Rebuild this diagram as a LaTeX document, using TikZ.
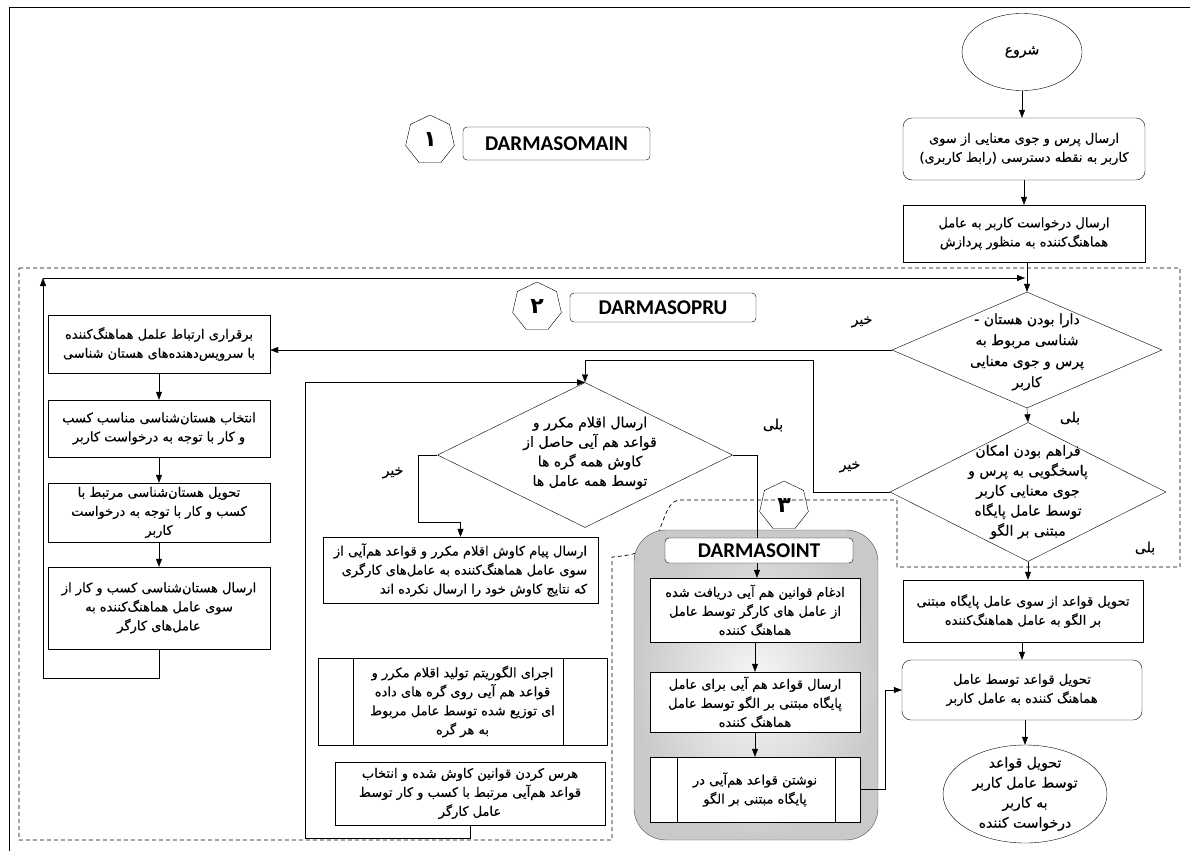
\documentclass[tikz,border=0pt]{standalone}
\usepackage{fontspec}
\setmainfont{DejaVu Sans}
\newfontfamily\persianfont[Script=Arabic, FakeBold=0.4]{DejaVu Sans}
\newfontfamily\digitfont[Script=Arabic]{DejaVu Sans}
\newfontfamily\tagfont{Carlito}
\TeXXeTstate=1
\usetikzlibrary{arrows.meta,shapes.geometric,calc}
\pgfdeclarelayer{back}
\pgfsetlayers{back,main}
\newcommand\rl[1]{\beginR #1\endR}

\begin{document}
\begin{tikzpicture}[x=1pt,y=-1pt,
  line width=0.8pt,
  every node/.style={inner sep=0pt},
  fa/.style={font=\persianfont\fontsize{13}{19}\selectfont},
  fabig/.style={font=\persianfont\fontsize{14}{20}\selectfont},
  box/.style={fa, draw, fill=white, align=center},
  rbox/.style={box, rounded corners=9pt},
  oval/.style={draw, fill=white, ellipse},
  dia/.style={draw, diamond, fill=white},
  dtext/.style={fabig, align=center},
  hept/.style={draw, regular polygon, regular polygon sides=7, minimum size=50pt,
    font=\digitfont\bfseries\fontsize{22}{22}\selectfont},
  tag/.style={draw, fill=white, rounded corners=4pt,
    font=\tagfont\bfseries\fontsize{21}{21}\selectfont},
  arr/.style={-{Triangle[length=8pt,width=6pt]}},
  lbl/.style={fabig},
]
\useasboundingbox (0,0) rectangle (1197,852);

% outer frame
\draw (9,851) -- (9,7) -- (1190,7);

\begin{pgfonlayer}{back}
  % DARMASOPRU area
  \draw[dash pattern=on 4pt off 3pt, line width=0.7pt]
    (19,268) -- (1180,268) -- (1180,567) -- (897,567) -- (897,500) -- (680,500)
    .. controls (662,501) and (665,536) .. (645,549)
    .. controls (638,554) and (625,556) .. (612,557)
    -- (612,840) -- (19,840) -- cycle;
  % DARMASOINT area
  \shade[draw=gray!60!black, rounded corners=32pt, inner color=gray!6, outer color=gray!42]
    (634,530) rectangle (878,840);
\end{pgfonlayer}

% section tags
\node[hept] (h1) at (430,140) {۱};
\node[tag, minimum width=187pt, minimum height=33pt] (t1) at (556.5,143.5) {DARMASOMAIN};
\node[hept] (h2) at (537,307) {۲};
\node[tag, minimum width=186pt, minimum height=29pt] (t2) at (663,307.5) {DARMASOPRU};
\node[hept] (h3) at (784,506) {۳};
\node[tag, minimum width=188pt, minimum height=25pt] (t3) at (759,550.5) {DARMASOINT};

% right column
\node[oval, minimum width=120pt, minimum height=77pt] (start) at (1022,52) {};
\node[fabig] (startT) at (start) {\rl{شروع}};
\node[rbox, minimum width=242pt, minimum height=62pt] (B1) at (1024,149)
  {\rl{ارسال پرس و جوی معنایی از سوی}\\\rl{کاربر به نقطه دسترسی (رابط کاربری)}};
\node[box, minimum width=242pt, minimum height=57pt] (B2) at (1024,233.5)
  {\rl{ارسال درخواست کاربر به عامل}\\\rl{هماهنگ‌کننده به منظور پردازش}};
\node[dia, minimum width=270pt, minimum height=116pt] (D1) at (1027,350) {};
\node[dtext, font=\persianfont\fontsize{14}{21}\selectfont] (D1t) at (1027,352)
  {\rl{دارا بودن هستان -}\\\rl{شناسی مربوط به}\\\rl{پرس و جوی معنایی}\\\rl{کاربر}};
\node[dia, minimum width=276pt, minimum height=139pt] (D2) at (1028,492) {};
\node[dtext] (D2t) at (1028,492)
  {\rl{فراهم بودن امکان}\\\rl{پاسخگویی به پرس و}\\\rl{جوی معنایی کاربر}\\\rl{توسط عامل پایگاه}\\\rl{مبتنی بر الگو}};
\node[box, minimum width=240pt, minimum height=62pt] (R1) at (1023,611)
  {\rl{تحویل قواعد از سوی عامل پایگاه مبتنی}\\\rl{بر الگو به عامل هماهنگ‌کننده}};
\node[rbox, minimum width=240pt, minimum height=60pt] (R2) at (1022,690)
  {\rl{تحویل قواعد توسط عامل}\\\rl{هماهنگ کننده به عامل کاربر}};
\node[oval, minimum width=164pt, minimum height=98pt] (fin) at (1025,794) {};
\node[dtext] (finT) at (fin)
  {\rl{تحویل قواعد}\\\rl{توسط عامل کاربر}\\\rl{به کاربر}\\\rl{درخواست کننده}};

% left column
\node[box, minimum width=222pt, minimum height=58pt] (L1) at (159,344)
  {\rl{برقراری ارتباط علمل هماهنگ‌کننده}\\\rl{با سرویس‌دهنده‌های هستان شناسی}};
\node[box, minimum width=222pt, minimum height=57pt] (L2) at (159,428.5)
  {\rl{انتخاب هستان‌شناسی مناسب کسب}\\\rl{و کار با توجه به درخواست کاربر}};
\node[box, minimum width=222pt, minimum height=59pt] (L3) at (159,512.5)
  {\rl{تحویل هستان‌شناسی مرتبط با}\\\rl{کسب و کار با توجه به درخواست}\\\rl{کاربر}};
\node[box, minimum width=222pt, minimum height=82pt] (L4) at (159,608)
  {\rl{ارسال هستان‌شناسی کسب و کار از}\\\rl{سوی عامل هماهنگ‌کننده به}\\\rl{عامل‌های کارگر}};

% middle column
\node[dia, minimum width=295pt, minimum height=145pt] (D3) at (585,455) {};
\node[dtext, font=\persianfont\fontsize{14}{19.5}\selectfont] (D3t) at (590,453)
  {\rl{ارسال اقلام مکرر و}\\\rl{قواعد هم آیی حاصل از}\\\rl{کاوش همه گره ها}\\\rl{توسط همه عامل ها}};
\node[box, align=right, minimum width=275pt, minimum height=66pt] (M1) at (460.5,570)
  {\rl{ارسال پیام کاوش اقلام مکرر و قواعد هم‌آیی از}\\\rl{سوی عامل هماهنگ‌کننده به عامل‌های کارگری}\\\rl{که نتایج کاوش خود را ارسال نکرده اند}};
\node[box, minimum width=289pt, minimum height=87pt] (M2) at (462.5,701.5)
  {\rl{اجرای الگوریتم تولید اقلام مکرر و}\\\rl{قواعد هم آیی روی گره های داده}\\\rl{ای توزیع شده توسط عامل مربوط}\\\rl{به هر گره}};
\draw ($(M2.north west)+(35,0)$) -- ($(M2.south west)+(35,0)$);
\draw ($(M2.north east)+(-44,0)$) -- ($(M2.south east)+(-44,0)$);
\node[box, minimum width=270pt, minimum height=63pt] (M3) at (470,793.5)
  {\rl{هرس کردن قوانین کاوش شده و انتخاب}\\\rl{قواعد هم‌آیی مرتبط با کسب و کار توسط}\\\rl{عامل کارگر}};

% DARMASOINT steps
\node[box, minimum width=210pt, minimum height=64pt] (I1) at (755,610)
  {\rl{ادغام قوانین هم آیی دریافت شده}\\\rl{از عامل های کارگر توسط عامل}\\\rl{هماهنگ کننده}};
\node[box, minimum width=210pt, minimum height=60pt] (I2) at (755,702)
  {\rl{ارسال قواعد هم آیی برای عامل}\\\rl{پایگاه مبتنی بر الگو توسط عامل}\\\rl{هماهنگ کننده}};
\node[box, minimum width=210pt, minimum height=65pt] (I3) at (755,789.5)
  {\rl{نوشتن قواعد هم‌آیی در}\\\rl{پایگاه مبتنی بر الگو}};
\draw ($(I3.north west)+(27,0)$) -- ($(I3.south west)+(27,0)$);
\draw ($(I3.north east)+(-25,0)$) -- ($(I3.south east)+(-25,0)$);

% branch labels
\node[lbl] (n1) at (862,322) {\rl{خیر}};
\node[lbl] (y1) at (1070,418) {\rl{بلی}};
\node[lbl] (n2) at (850,467) {\rl{خیر}};
\node[lbl] (y2) at (1145,548) {\rl{بلی}};
\node[lbl] (n3) at (393,473) {\rl{خیر}};
\node[lbl] (y3) at (773,425) {\rl{بلی}};

% bend points
\coordinate (lpB) at (43,678);
\coordinate (lpT) at (43,278);
\coordinate (k1) at (813,360);
\coordinate (k2) at (305,838);
\coordinate (k3) at (418,522);
\coordinate (k4) at (757,455);
\coordinate (k5) at (885,789.5);

\begin{pgfonlayer}{back}
  \draw[arr] (start.south) -- (start.south |- B1.north);
  \draw[arr] (B1.south) -- (B2.north);
  \draw[arr] (B2.south -| D1.north) -- (D1.north);
  \draw[arr] (L4.south) |- (lpB) -- (lpT);
  \draw[arr] (lpT) -- ($(lpT -| D1.north)+(-2,0)$);
  \draw[arr] (D1.west) -- (D1.west -| L1.east);
  \draw[arr] (D1.south) -- (D2.north);
  \draw[arr] (D2.west) -| (k1) -| (D3.north);
  \draw[arr] (M3.south) |- (k2) |- (D3.north);
  \draw[arr] (D3.west) -| (k3) -| (M1.north);
  \draw[arr] (D3.east) -- (k4) -- (k4 |- I1.north);
  \draw[arr] (L1.south) -- (L2.north);
  \draw[arr] (L2.south) -- (L3.north);
  \draw[arr] (L3.south) -- (L4.north);
  \draw[arr] (I1.south) -- (I2.north);
  \draw[arr] (I2.south) -- (I3.north);
  \draw[arr] (I3.east) -- (k5) |- (R2.west);
  \draw[arr] (D2.south) -- (D2.south |- R1.north);
  \draw[arr] (R2.north |- R1.south) -- (R2.north);
  \draw[arr] (R2.south -| fin.north) -- (fin.north);
\end{pgfonlayer}
\end{tikzpicture}
\end{document}
